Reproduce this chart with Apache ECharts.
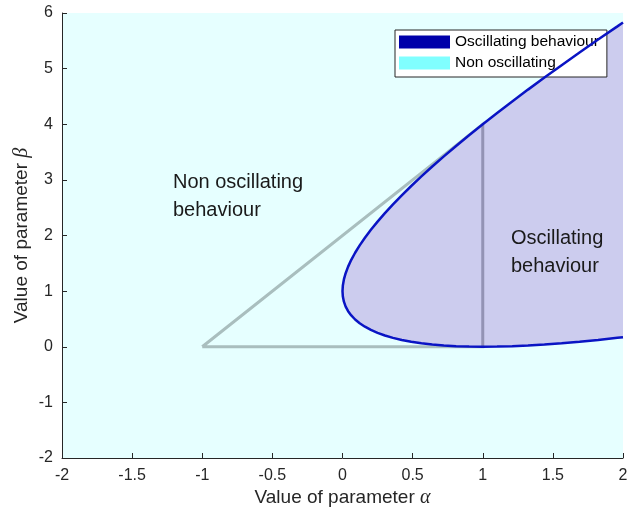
<!DOCTYPE html>
<html>
<head>
<meta charset="utf-8">
<script src="https://cdn.jsdelivr.net/npm/echarts@6/dist/echarts.min.js"></script>
<style>html,body{margin:0;padding:0;background:#fff;}#c{width:627px;height:515px;}</style>
</head>
<body>
<div id="c"></div>
<script>
// Boundary of the oscillating region
var curveAlpha = [0, 0.0025, 0.01, 0.0225, 0.04, 0.0625, 0.09, 0.1225, 0.16, 0.2025, 0.25, 0.3025, 0.36, 0.4225, 0.49, 0.5625, 0.64, 0.7225, 0.81, 0.9025, 1, 1.1025, 1.21, 1.3225, 1.44, 1.5625, 1.69, 1.8225, 1.96, 2];
var curveUpper = [1, 1.1025, 1.21, 1.3225, 1.44, 1.5625, 1.69, 1.8225, 1.96, 2.1025, 2.25, 2.4025, 2.56, 2.7225, 2.89, 3.0625, 3.24, 3.4225, 3.61, 3.8025, 4, 4.2025, 4.41, 4.6225, 4.84, 5.0625, 5.29, 5.5225, 5.76, 5.83];
var curveLower = [1, 0.9025, 0.81, 0.7225, 0.64, 0.5625, 0.49, 0.4225, 0.36, 0.3025, 0.25, 0.2025, 0.16, 0.1225, 0.09, 0.0625, 0.04, 0.0225, 0.01, 0.0025, 0, 0.0025, 0.01, 0.0225, 0.04, 0.0625, 0.09, 0.1225, 0.16, 0.17];
// Gray triangle
var triangleAlpha = [-1, 1, 1, -1];
var triangleBeta = [0, 0, 4, 0];
// Vertical segment inside region
var segAlpha = [1, 1];
var segBeta = [0, 4];
// Axis ticks
var xTicks = [-2, -1.5, -1, -0.5, 0, 0.5, 1, 1.5, 2];
var yTicks = [-2, -1, 0, 1, 2, 3, 4, 5, 6];
var legendNames = ['Oscillating behaviour', 'Non oscillating'];
var xLabel = 'Value of parameter ';
var yLabel = 'Value of parameter ';

var chart = echarts.init(document.getElementById('c'), null, {renderer: 'canvas'});

var curveData = [];
for (var i = curveAlpha.length - 1; i >= 0; i--) curveData.push([curveAlpha[i], curveUpper[i]]);
for (var j = 1; j < curveAlpha.length; j++) curveData.push([curveAlpha[j], curveLower[j]]);
var triData = triangleAlpha.map(function (a, k) { return [a, triangleBeta[k]]; });
var segData = segAlpha.map(function (a, k) { return [a, segBeta[k]]; });

var axisColor = '#262626';
var font = '"Liberation Sans", Arial, Helvetica, sans-serif';

chart.setOption({
  animation: false,
  backgroundColor: '#ffffff',
  grid: {left: 62, right: 4, top: 13, bottom: 57, show: true, backgroundColor: '#e6ffff', borderWidth: 0, containLabel: false, outerBoundsMode: 'none'},
  xAxis: {
    type: 'value', min: xTicks[0], max: xTicks[xTicks.length - 1], interval: 0.5,
    axisLine: {show: true, onZero: false, lineStyle: {color: axisColor, width: 1}},
    axisTick: {show: true, inside: true, length: 5, lineStyle: {color: axisColor}},
    splitLine: {show: false},
    axisLabel: {color: axisColor, fontSize: 16, fontFamily: font, margin: 10},
    name: '{t|' + xLabel + '}{g|α}', nameLocation: 'middle', nameGap: 30, nameMoveOverlap: false,
    nameTextStyle: {rich: {t: {fontSize: 19, fontFamily: font, color: axisColor}, g: {fontSize: 20, fontFamily: '"Liberation Serif", serif', fontStyle: 'italic', color: axisColor}}}
  },
  yAxis: {
    type: 'value', min: yTicks[0], max: yTicks[yTicks.length - 1], interval: 1,
    axisLine: {show: true, onZero: false, lineStyle: {color: axisColor, width: 1}},
    axisTick: {show: true, inside: true, length: 5, lineStyle: {color: axisColor}},
    splitLine: {show: false},
    axisLabel: {color: axisColor, fontSize: 16, fontFamily: font, margin: 9},
    name: '{t|' + yLabel + '}{g|β}', nameLocation: 'middle', nameGap: 30, nameRotate: 90, nameMoveOverlap: false,
    nameTextStyle: {rich: {t: {fontSize: 19, fontFamily: font, color: axisColor}, g: {fontSize: 20, fontFamily: '"Liberation Serif", serif', fontStyle: 'italic', color: axisColor}}}
  },
  legend: {
    selectedMode: false, orient: 'vertical', left: 395, top: 30,
    padding: [4, 8, 6, 4], itemGap: 5, itemWidth: 51, itemHeight: 13,
    backgroundColor: '#ffffff', borderColor: '#262626', borderWidth: 1, borderRadius: 0,
    textStyle: {fontSize: 15.5, fontFamily: font, color: '#000', lineHeight: 15},
    data: [
      {name: legendNames[0], icon: 'rect', itemStyle: {color: '#0000aa', borderWidth: 0}},
      {name: legendNames[1], icon: 'rect', itemStyle: {color: '#80ffff', borderWidth: 0}}
    ]
  },
  graphic: [
    {type: 'text', left: 173, top: 168, z: 100, style: {text: 'Non oscillating\nbehaviour', fontSize: 20, fontFamily: font, fill: '#1a1a1a', lineHeight: 28}},
    {type: 'text', left: 511, top: 224, z: 100, style: {text: 'Oscillating\nbehaviour', fontSize: 20, fontFamily: font, fill: '#1a1a1a', lineHeight: 28}}
  ],
  series: [
    {
      type: 'line', name: 'triangle', data: triData, z: 1, showSymbol: false, silent: true,
      lineStyle: {color: '#a9bebe', width: 3, join: 'miter'}
    },
    {
      type: 'custom', name: legendNames[0], z: 2, silent: true, data: [[0, 1]],
      itemStyle: {color: '#0000aa'},
      renderItem: function (params, api) {
        var pts = [];
        for (var a = 0; a < curveAlpha.length; a++) pts.push(api.coord([curveAlpha[a], curveUpper[a]]));
        for (var b = curveAlpha.length - 1; b >= 0; b--) pts.push(api.coord([curveAlpha[b], curveLower[b]]));
        return {type: 'polygon', shape: {points: pts}, style: {fill: '#ccccee', stroke: null}};
      }
    },
    {
      type: 'line', name: 'segment', data: segData, z: 3, showSymbol: false, silent: true,
      lineStyle: {color: '#9393b4', width: 3}
    },
    {
      type: 'line', name: 'boundary', data: curveData, z: 4, showSymbol: false, silent: true,
      lineStyle: {color: '#0a14c4', width: 2.5}
    },
    {type: 'line', name: legendNames[1], data: [], itemStyle: {color: '#80ffff'}}
  ]
});
</script>
</body>
</html>
